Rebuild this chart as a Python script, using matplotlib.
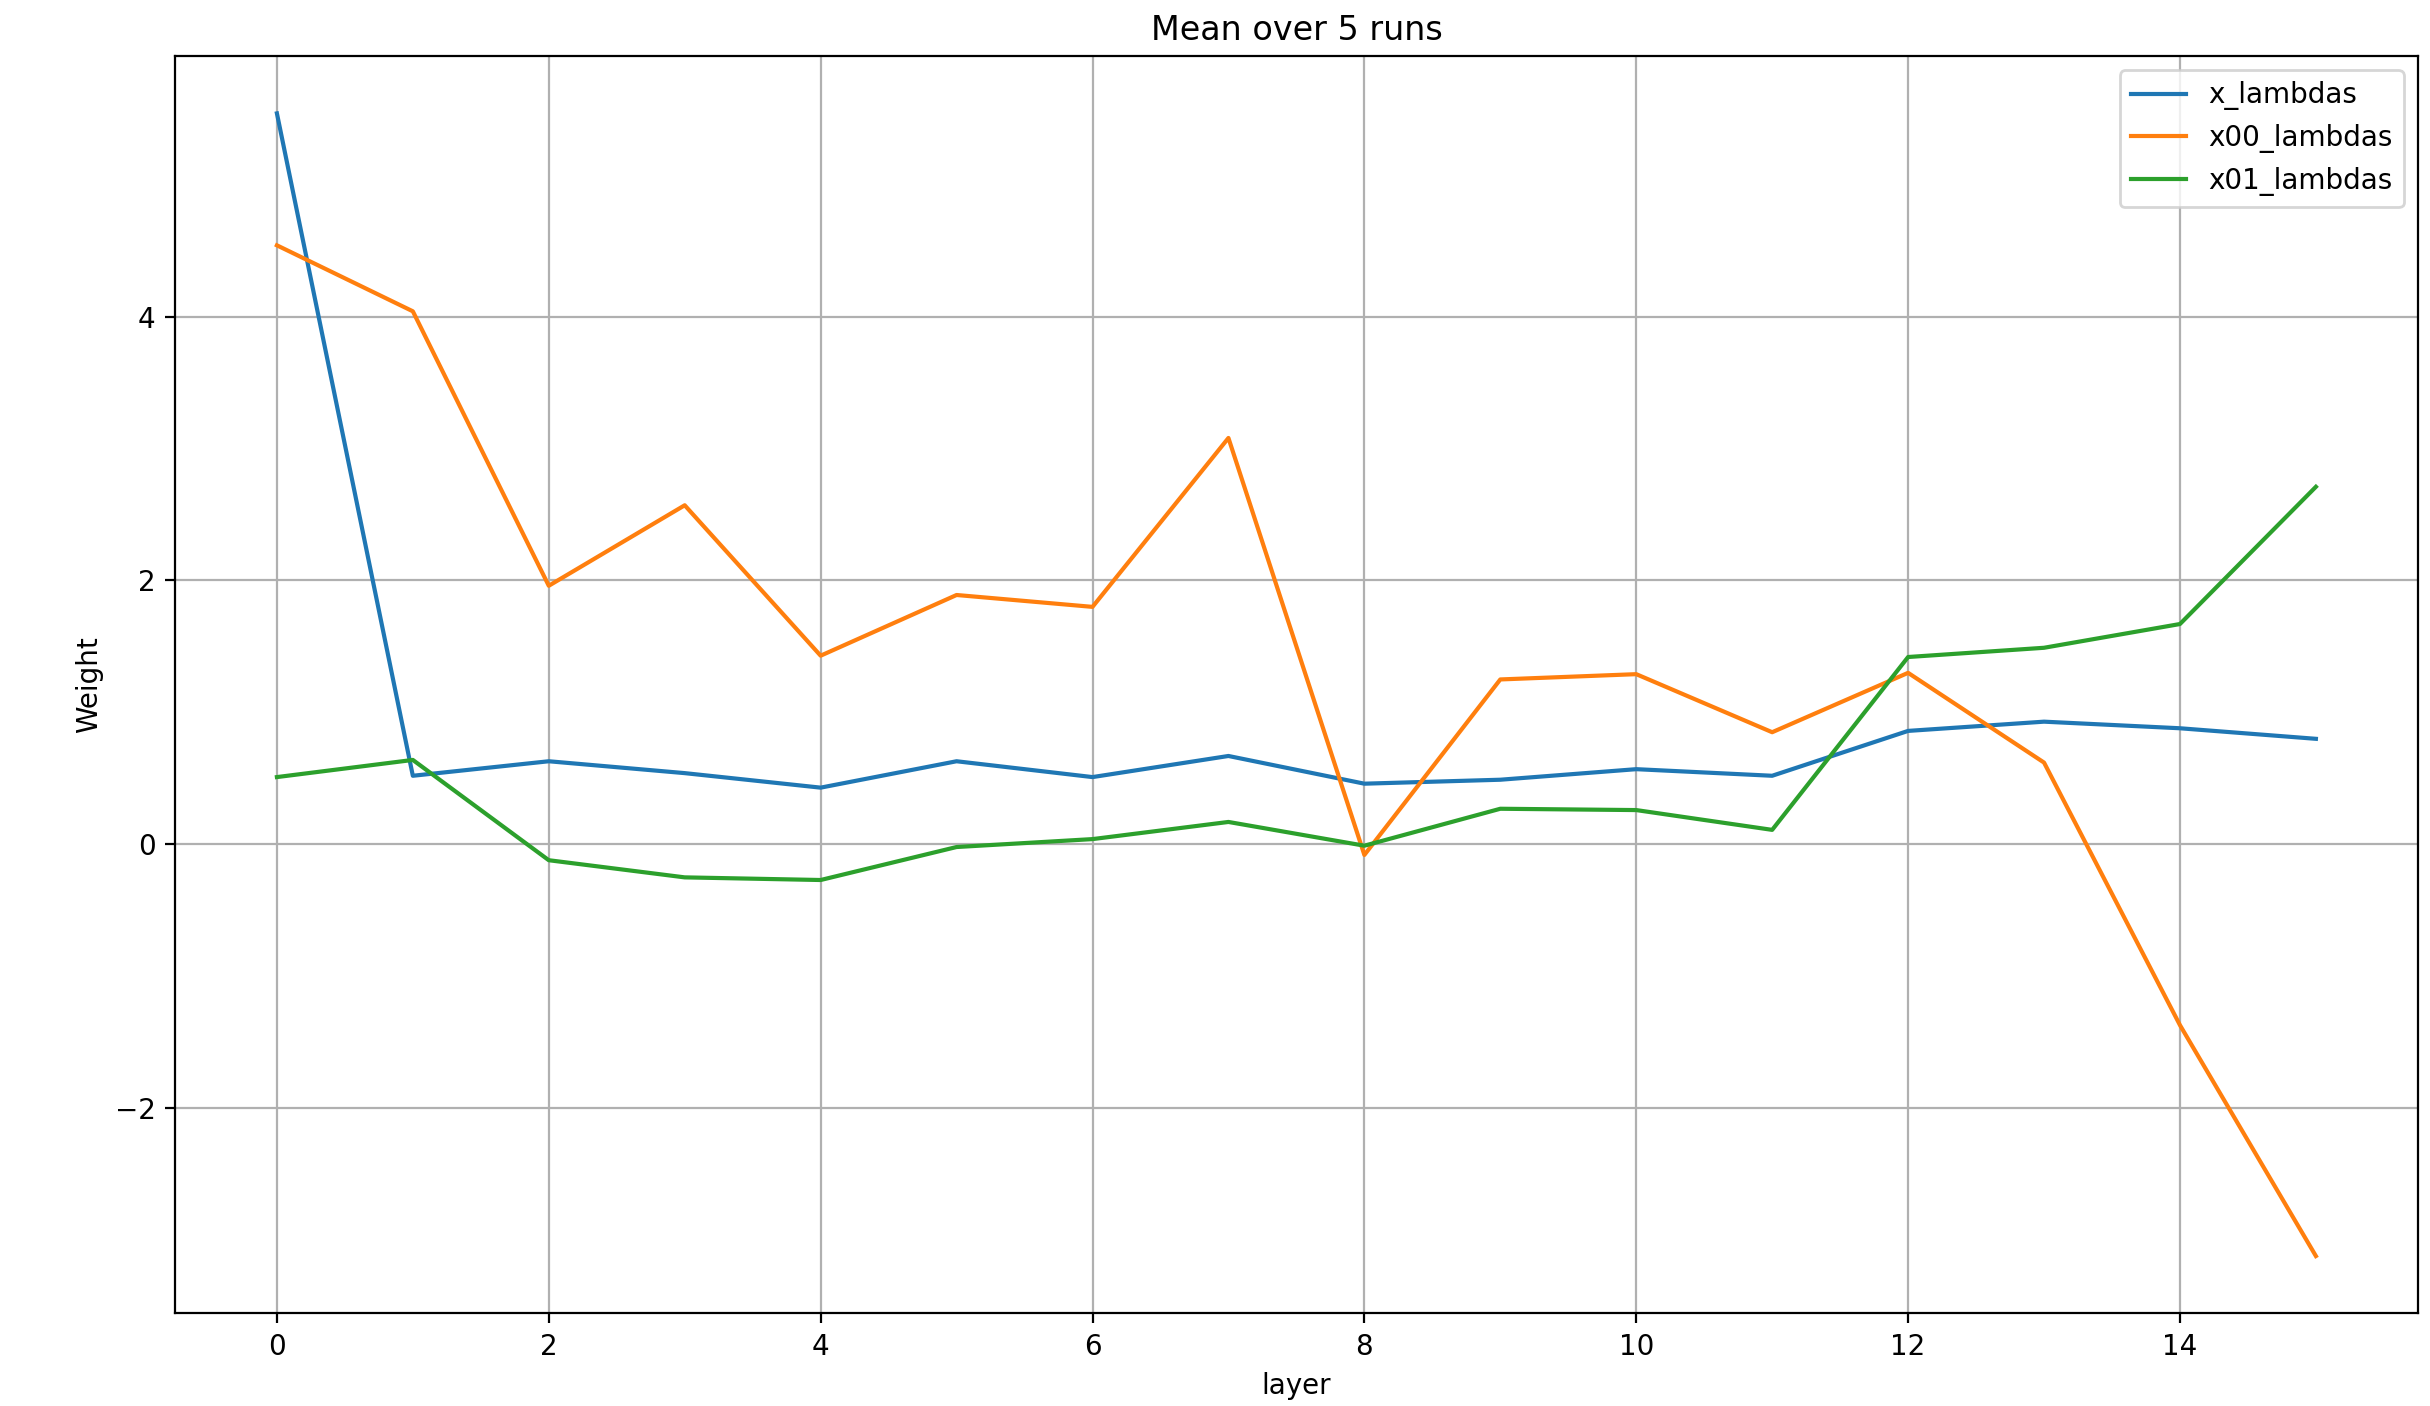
import matplotlib
matplotlib.use("Agg")
import matplotlib.pyplot as plt

layers = list(range(16))
x_lambdas = [5.54, 0.52, 0.63, 0.54, 0.43, 0.63, 0.51, 0.67, 0.46, 0.49, 0.57, 0.52, 0.86, 0.93, 0.88, 0.80]
x00_lambdas = [4.54, 4.04, 1.96, 2.57, 1.43, 1.89, 1.80, 3.08, -0.08, 1.25, 1.29, 0.85, 1.30, 0.62, -1.37, -3.12]
x01_lambdas = [0.51, 0.64, -0.12, -0.25, -0.27, -0.02, 0.04, 0.17, -0.01, 0.27, 0.26, 0.11, 1.42, 1.49, 1.67, 2.71]

fig, ax = plt.subplots(figsize=(12.15, 7.03), dpi=200)
ax.plot(layers, x_lambdas, label="x_lambdas")
ax.plot(layers, x00_lambdas, label="x00_lambdas")
ax.plot(layers, x01_lambdas, label="x01_lambdas")
ax.set_title("Mean over 5 runs")
ax.set_xlabel("layer")
ax.set_ylabel("Weight")
ax.grid(True)
ax.legend(loc="upper right")
fig.subplots_adjust(left=0.072, right=0.995, top=0.96, bottom=0.066)
fig.savefig("out.png")
